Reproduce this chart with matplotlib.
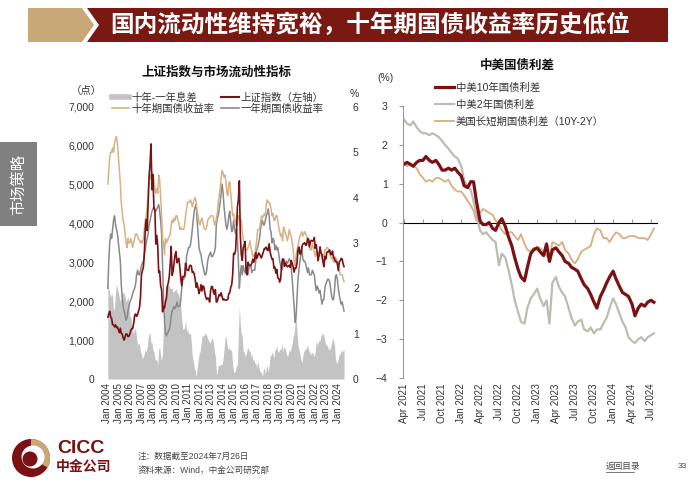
import matplotlib.pyplot as plt
import matplotlib.patches as mpatches
import matplotlib.dates as mdates
from matplotlib.lines import Line2D
from matplotlib.ticker import NullFormatter
import pandas as pd

plt.rcParams['font.family'] = ['Liberation Sans', 'Noto Sans CJK SC']

# ---- left chart: monthly data, Jan 2004 - Jul 2024 ----
sh_index = [
    1590, 1675, 1742, 1595, 1555, 1400, 1386, 1342, 1396, 1320, 1340, 1266,  # 2004
    1191, 1306, 1181, 1159, 1060, 1000, 1083, 1162, 1155, 1092, 1099, 1161,  # 2005
    1258, 1299, 1298, 1440, 1641, 1672, 1612, 1658, 1752, 1837, 2099, 2675,  # 2006
    2786, 2881, 3183, 3841, 4109, 3820, 4471, 5218, 5552, 6050, 4871, 5261,  # 2007
    4383, 4348, 3472, 3693, 3433, 2736, 2775, 2397, 2293, 1728, 1871, 1820,  # 2008
    1990, 2082, 2373, 2477, 2632, 2959, 3412, 2667, 2779, 2995, 3195, 3277,  # 2009
    2989, 3051, 3109, 2870, 2592, 2398, 2638, 2638, 2655, 2979, 2820, 2808,  # 2010
    2790, 2905, 2928, 2911, 2743, 2762, 2701, 2568, 2359, 2469, 2333, 2199,  # 2011
    2292, 2428, 2263, 2397, 2373, 2225, 2103, 2047, 2086, 2069, 1980, 2269,  # 2012
    2385, 2365, 2237, 2178, 2301, 1979, 1993, 2098, 2175, 2142, 2220, 2116,  # 2013
    2033, 2056, 2033, 2026, 2039, 2048, 2202, 2217, 2364, 2420, 2683, 3235,  # 2014
    3210, 3310, 3748, 4442, 4612, 5100, 3700, 3206, 3053, 3383, 3445, 3539,  # 2015
    2738, 2688, 3004, 2938, 2917, 2930, 2979, 3085, 3005, 3100, 3250, 3104,  # 2016
    3159, 3242, 3223, 3155, 3117, 3192, 3273, 3361, 3349, 3393, 3317, 3307,  # 2017
    3480, 3259, 3169, 3082, 3095, 2847, 2876, 2725, 2821, 2603, 2588, 2494,  # 2018
    2585, 2941, 3091, 3078, 2899, 2979, 2933, 2886, 2905, 2929, 2872, 3050,  # 2019
    2977, 2880, 2750, 2860, 2852, 2985, 3310, 3396, 3218, 3225, 3392, 3473,  # 2020
    3483, 3509, 3441, 3447, 3615, 3591, 3397, 3544, 3568, 3547, 3564, 3640,  # 2021
    3361, 3462, 3252, 3047, 3186, 3399, 3253, 3202, 3024, 2893, 3151, 3089,  # 2022
    3255, 3280, 3273, 3323, 3205, 3202, 3291, 3120, 3110, 3018, 3030, 2975,  # 2023
    2789, 3015, 3041, 3104, 3087, 2967, 2890,                                # 2024
]
yield_10y = [
    4.3, 4.6, 4.9, 5.0, 5.0, 5.1, 5.0, 5.2, 5.3, 5.35, 5.2, 4.9,
    4.6, 4.3, 3.9, 3.7, 3.5, 3.4, 3.2, 3.0, 2.9, 3.1, 3.0, 3.0,
    3.1, 3.0, 2.9, 3.0, 3.1, 3.2, 3.2, 3.15, 3.1, 3.05, 3.0, 3.05,
    3.0, 3.1, 3.3, 3.5, 3.6, 3.8, 4.1, 4.4, 4.5, 4.4, 4.55, 4.4,
    4.4, 4.2, 4.1, 4.2, 4.1, 4.5, 4.4, 4.0, 3.6, 3.1, 3.0, 2.75,
    3.1, 3.0, 3.05, 3.1, 3.15, 3.2, 3.4, 3.5, 3.45, 3.55, 3.5, 3.6,
    3.6, 3.5, 3.45, 3.3, 3.35, 3.3, 3.3, 3.3, 3.4, 3.6, 3.75, 3.9,
    3.9, 3.9, 3.95, 3.9, 3.8, 3.9, 3.95, 4.0, 3.9, 3.7, 3.6, 3.45,
    3.4, 3.5, 3.55, 3.45, 3.35, 3.3, 3.3, 3.35, 3.5, 3.55, 3.55, 3.6,
    3.6, 3.6, 3.55, 3.4, 3.4, 3.55, 3.65, 3.9, 4.05, 4.2, 4.45, 4.6,
    4.55, 4.45, 4.5, 4.35, 4.1, 4.05, 4.3, 4.35, 4.1, 3.85, 3.6, 3.65,
    3.45, 3.4, 3.6, 3.4, 3.6, 3.6, 3.5, 3.5, 3.25, 3.1, 3.0, 2.85,
    2.85, 2.85, 2.9, 2.95, 3.05, 2.9, 2.8, 2.7, 2.75, 2.7, 2.9, 3.05,
    3.3, 3.3, 3.3, 3.45, 3.6, 3.55, 3.6, 3.65, 3.6, 3.85, 3.95, 3.9,
    3.9, 3.85, 3.75, 3.6, 3.65, 3.5, 3.5, 3.6, 3.6, 3.5, 3.35, 3.25,
    3.15, 3.2, 3.05, 3.35, 3.3, 3.2, 3.15, 3.05, 3.15, 3.3, 3.2, 3.15,
    3.0, 2.85, 2.6, 2.5, 2.7, 2.85, 2.95, 3.05, 3.15, 3.2, 3.25, 3.15,
    3.2, 3.25, 3.2, 3.15, 3.1, 3.1, 2.9, 2.85, 2.85, 3.0, 2.9, 2.8,
    2.7, 2.8, 2.8, 2.8, 2.75, 2.8, 2.75, 2.65, 2.75, 2.7, 2.85, 2.85,
    2.9, 2.9, 2.85, 2.8, 2.7, 2.65, 2.65, 2.58, 2.7, 2.68, 2.65, 2.55,
    2.45, 2.4, 2.3, 2.3, 2.3, 2.22, 2.15,
]
yield_1y = [
    2.0, 2.6, 3.0, 3.2, 3.1, 3.3, 3.5, 3.6, 3.4, 3.3, 3.2, 3.0,
    2.8, 2.6, 2.1, 1.8, 1.6, 1.5, 1.4, 1.3, 1.35, 1.5, 1.6, 1.7,
    1.75, 1.8, 1.9, 1.95, 2.0, 2.1, 2.3, 2.4, 2.3, 2.3, 2.4, 2.5,
    2.55, 2.6, 2.75, 2.85, 3.0, 3.1, 3.2, 3.4, 3.5, 3.6, 3.7, 3.75,
    3.8, 3.75, 3.7, 3.75, 3.8, 3.85, 3.7, 3.5, 3.2, 2.5, 1.8, 1.3,
    1.0, 0.95, 1.0, 1.05, 1.1, 1.2, 1.4, 1.5, 1.55, 1.6, 1.55, 1.6,
    1.7, 1.6, 1.6, 1.6, 1.75, 2.0, 2.2, 2.2, 2.25, 2.3, 2.7, 2.8,
    2.9, 2.9, 2.95, 3.1, 3.3, 3.5, 3.7, 3.8, 3.85, 3.5, 3.2, 2.9,
    2.8, 2.75, 2.6, 2.5, 2.4, 2.3, 2.3, 2.4, 2.6, 2.7, 2.75, 2.8,
    2.7, 2.7, 2.75, 2.8, 2.9, 3.4, 3.55, 3.6, 3.75, 3.9, 4.1, 4.3,
    4.1, 3.8, 3.6, 3.4, 3.3, 3.4, 3.6, 3.7, 3.45, 3.25, 3.3, 3.5,
    3.3, 3.2, 3.3, 3.1, 2.6, 2.0, 2.3, 2.5, 2.3, 2.5, 2.4, 2.35,
    2.35, 2.3, 2.3, 2.45, 2.5, 2.5, 2.35, 2.4, 2.4, 2.4, 2.6, 2.85,
    2.9, 3.0, 3.1, 3.3, 3.45, 3.5, 3.4, 3.4, 3.5, 3.6, 3.65, 3.75,
    3.6, 3.3, 3.25, 3.0, 3.1, 3.05, 2.85, 2.95, 2.85, 2.9, 2.75, 2.6,
    2.5, 2.4, 2.45, 2.65, 2.6, 2.55, 2.6, 2.55, 2.6, 2.65, 2.6, 2.45,
    2.2, 1.9, 1.6, 1.25, 1.35, 1.8, 2.2, 2.4, 2.6, 2.75, 2.9, 2.65,
    2.6, 2.6, 2.55, 2.45, 2.35, 2.45, 2.3, 2.3, 2.3, 2.4, 2.35, 2.3,
    2.1, 1.95, 2.05, 2.0, 1.9, 1.95, 1.8, 1.65, 1.75, 1.75, 2.0, 2.1,
    2.15, 2.2, 2.2, 2.15, 2.0, 1.85, 1.75, 1.75, 1.95, 2.25, 2.3, 2.2,
    2.0, 1.85, 1.75, 1.65, 1.7, 1.6, 1.5,
]
spread_10y_1y = [
    2.3, 2.0, 1.9, 1.8, 1.9, 1.8, 1.5, 1.6, 1.9, 2.1, 2.0, 1.9,
    1.8, 1.7, 1.8, 1.9, 1.9, 1.9, 1.8, 1.7, 1.75, 1.8, 1.6, 1.4,
    1.35, 1.2, 1.0, 1.05, 1.1, 1.1, 0.9, 0.75, 0.8, 0.75, 0.6, 0.55,
    0.45, 0.5, 0.55, 0.65, 0.6, 0.7, 0.9, 1.0, 1.0, 0.8, 0.8, 0.65,
    0.6, 0.45, 0.4, 0.45, 0.3, 0.65, 0.7, 0.5, 0.4, 0.6, 1.2, 1.45,
    2.1, 2.05, 2.05, 2.05, 2.05, 2.0, 2.0, 2.0, 1.9, 1.95, 1.95, 2.0,
    1.9, 1.9, 1.85, 1.7, 1.6, 1.3, 1.1, 1.1, 1.15, 1.3, 1.05, 1.1,
    1.0, 1.0, 1.0, 0.8, 0.5, 0.4, 0.25, 0.2, 0.05, 0.2, 0.4, 0.55,
    0.6, 0.75, 0.95, 0.95, 0.95, 1.0, 1.0, 0.95, 0.9, 0.85, 0.8, 0.8,
    0.9, 0.9, 0.8, 0.6, 0.5, 0.15, 0.1, 0.3, 0.3, 0.3, 0.35, 0.3,
    0.45, 0.65, 0.9, 0.95, 0.8, 0.65, 0.7, 0.65, 0.65, 0.6, 0.3, 0.15,
    0.15, 0.2, 0.3, 0.3, 1.0, 1.6, 1.2, 1.0, 0.95, 0.6, 0.6, 0.5,
    0.55, 0.65, 0.7, 0.6, 0.65, 0.5, 0.55, 0.4, 0.45, 0.35, 0.35, 0.25,
    0.4, 0.3, 0.2, 0.15, 0.15, 0.05, 0.2, 0.25, 0.1, 0.25, 0.3, 0.15,
    0.3, 0.55, 0.5, 0.6, 0.55, 0.45, 0.65, 0.65, 0.75, 0.6, 0.6, 0.65,
    0.65, 0.8, 0.6, 0.7, 0.7, 0.65, 0.55, 0.5, 0.55, 0.65, 0.6, 0.7,
    0.8, 0.95, 1.0, 1.25, 1.35, 1.05, 0.75, 0.65, 0.55, 0.45, 0.35, 0.5,
    0.6, 0.65, 0.65, 0.7, 0.75, 0.65, 0.6, 0.55, 0.55, 0.6, 0.55, 0.5,
    0.6, 0.85, 0.75, 0.8, 0.85, 0.85, 0.95, 1.0, 1.0, 0.95, 0.85, 0.75,
    0.75, 0.7, 0.65, 0.65, 0.7, 0.8, 0.9, 0.85, 0.75, 0.45, 0.35, 0.35,
    0.45, 0.55, 0.55, 0.65, 0.6, 0.62, 0.65,
]
dates_left = pd.date_range('2004-01-01', periods=len(sh_index), freq='MS') + pd.Timedelta(days=14)

# ---- right chart: semi-monthly data, Apr 2021 - Jul 2024 ----
cn_us_10y = [
    1.50, 1.55, 1.50, 1.45, 1.55, 1.60, 1.60, 1.70, 1.60, 1.55, 1.60, 1.50,
    1.35, 1.35, 1.40, 1.35, 1.40, 1.30,
    1.20, 0.95, 0.90, 1.05, 1.05, 0.55, 0.05, -0.05, -0.05, 0.00, -0.15, -0.20,
    0.00, 0.10, -0.10, -0.35, -0.60, -0.90, -1.20, -1.40, -1.50, -1.15, -0.80, -0.70,
    -0.65, -0.75, -0.85, -0.55, -1.00, -0.70, -0.65, -0.75, -0.85, -1.00, -1.05, -1.15,
    -1.20, -1.25, -1.45, -1.60, -1.70, -1.85, -2.05, -2.20, -1.90, -1.75, -1.55, -1.40,
    -1.25, -1.45, -1.65, -1.80, -1.85, -1.90, -2.10, -2.40, -2.20, -2.10, -2.15, -2.05,
    -2.00, -2.05,
]
cn_us_2y = [
    2.65, 2.55, 2.50, 2.60, 2.45, 2.35, 2.30, 2.30, 2.25, 2.30, 2.25, 2.20,
    2.10, 2.00, 1.90, 1.80, 1.70, 1.65,
    1.45, 1.10, 0.90, 0.85, 0.55, 0.20, -0.20, -0.30, -0.25, -0.35, -0.45, -0.50,
    -1.10, -0.80, -0.90, -1.20, -1.60, -2.00, -2.30, -2.55, -2.60, -2.20, -1.95, -1.85,
    -1.70, -1.95, -2.15, -2.00, -2.60, -1.55, -1.40, -1.65, -1.80, -1.90, -2.20, -2.45,
    -2.65, -2.55, -2.50, -2.75, -2.80, -2.70, -2.85, -2.75, -2.75, -2.60, -2.45, -2.20,
    -1.95, -2.10, -2.35, -2.55, -2.70, -2.95, -3.05, -3.10, -3.00, -2.95, -3.05, -2.95,
    -2.90, -2.85,
]
us_10y_2y = [
    1.55, 1.45, 1.50, 1.45, 1.40, 1.25, 1.15, 1.05, 1.10, 1.05, 1.15, 1.15,
    1.10, 1.05, 1.10, 0.95, 0.85, 0.80,
    0.80, 0.70, 0.55, 0.45, 0.30, 0.05, 0.25, 0.35, 0.30, 0.25, 0.20, 0.05,
    -0.05, -0.20, -0.30, -0.25, -0.25, -0.35, -0.45, -0.30, -0.55, -0.70, -0.75, -0.65,
    -0.70, -0.65, -0.75, -0.85, -0.95, -0.50, -0.55, -0.60, -0.50, -0.70, -0.80, -0.95,
    -1.05, -0.95, -0.75, -0.70, -0.65, -0.60, -0.30, -0.15, -0.20, -0.40, -0.40, -0.50,
    -0.35, -0.25, -0.30, -0.40, -0.40, -0.35, -0.35, -0.35, -0.40, -0.40, -0.40, -0.45,
    -0.30, -0.15,
]
dates_right = pd.date_range('2021-04-01', periods=len(cn_us_10y), freq='SMS')

RED = '#7B1113'
TAN = '#D7B384'
GREY = '#8A8A8A'
AREA = '#C3C3C3'
TXT = '#333333'

fig = plt.figure(figsize=(7, 4.9), dpi=100)

# page decoration layer in pixel coordinates
bg = fig.add_axes([0, 0, 1, 1])
bg.set_xlim(0, 700)
bg.set_ylim(490, 0)
bg.axis('off')
bg.add_patch(mpatches.Polygon([(28, 8), (82, 8), (94, 25), (82, 42), (28, 42)], color='#C9A878', lw=0))
bg.add_patch(mpatches.Polygon([(87, 8), (668, 8), (668, 42), (87, 42), (99, 25)], color='#7A1812', lw=0))
bg.text(110, 25, '国内流动性维持宽裕，十年期国债收益率历史低位', color='white',
        fontsize=17, fontweight='bold', va='center', ha='left')
bg.add_patch(mpatches.Rectangle((0, 142), 37, 84, color='#808080', lw=0))
bg.text(18.5, 184, '市场策略', color='white', fontsize=11, rotation=90, ha='center', va='center')

# logo
bg.add_patch(mpatches.Circle((31, 458), 19, color=RED, lw=0))
bg.add_patch(mpatches.Wedge((31, 458), 19, -90, 30, color='#C9A878', lw=0))
bg.add_patch(mpatches.Circle((33, 457), 11.5, color='white', lw=0))
bg.add_patch(mpatches.Circle((30, 459), 7.5, color=RED, lw=0))
bg.text(57, 448, 'CICC', color=RED, fontsize=14, fontweight='bold', va='center', ha='left')
bg.text(56, 467, '中金公司', color=RED, fontsize=10, fontweight='bold', va='center', ha='left')
bg.text(138, 456, '注：数据截至2024年7月26日', color='#444444', fontsize=6.2, va='center')
bg.text(138, 470, '资料来源：Wind，中金公司研究部', color='#444444', fontsize=6.2, va='center')
bg.text(606, 466, '返回目录', color='#444444', fontsize=6.2, va='center')
bg.plot([606, 634], [472, 472], color='#444444', lw=0.5)
bg.text(682, 466, '33', color='#444444', fontsize=6, va='center', ha='center')

# chart titles and unit labels
bg.text(216, 73, '上证指数与市场流动性指标', fontsize=9, fontweight='bold', ha='center', va='center', color='#111111')
bg.text(517, 66, '中美国债利差', fontsize=9, fontweight='bold', ha='center', va='center', color='#111111')
bg.text(86, 91, '（点）', fontsize=7.5, ha='center', va='center', color=TXT)
bg.text(354, 94, '%', fontsize=7.5, ha='center', va='center', color=TXT)
bg.text(386, 78, '(%)', fontsize=7.5, ha='center', va='center', color=TXT)

# ---- left chart ----
ax1 = fig.add_axes([107 / 700, 1 - 379 / 490, 239 / 700, 272 / 490])
ax2 = ax1.twinx()
ax2.fill_between(dates_left, spread_10y_1y, 0, color=AREA, lw=0)
ax2.plot(dates_left, yield_1y, color=GREY, lw=1.1)
ax2.plot(dates_left, yield_10y, color=TAN, lw=1.1)
ax1.plot(dates_left, sh_index, color=RED, lw=1.2)
ax1.set_zorder(ax2.get_zorder() + 1)
ax1.patch.set_visible(False)

ax1.set_ylim(0, 7000)
ax2.set_ylim(0, 6)
ax1.set_yticks(range(0, 7001, 1000))
ax1.set_yticklabels([f'{v:,}' for v in range(0, 7001, 1000)])
ax2.set_yticks(range(0, 7))
ax1.set_xlim(pd.Timestamp('2003-12-20'), pd.Timestamp('2024-09-15'))
ax1.xaxis.set_major_locator(mdates.YearLocator())
ax1.xaxis.set_major_formatter(mdates.DateFormatter('%b %Y'))
for a in (ax1, ax2):
    for s in a.spines.values():
        s.set_visible(False)
ax1.tick_params(axis='y', length=0, pad=9, labelsize=7.5, labelcolor=TXT)
ax2.tick_params(axis='y', length=0, pad=5, labelsize=7.5, labelcolor=TXT)
ax1.tick_params(axis='x', length=0, pad=3, labelsize=7, labelcolor=TXT, labelrotation=90)

h_left = [
    Line2D([], [], color=AREA, lw=4),
    Line2D([], [], color=TAN, lw=1.2),
    Line2D([], [], color=RED, lw=1.5),
    Line2D([], [], color=GREY, lw=1.2),
]
l_left = ['十年-一年息差', '十年期国债收益率', '上证指数（左轴）', '一年期国债收益率']
ax1.legend(h_left, l_left, ncol=2, loc='upper left', bbox_to_anchor=(0.02, 1.052),
           frameon=False, fontsize=7.5, handlelength=1.7, handletextpad=0.2,
           columnspacing=0.6, labelspacing=0.05, borderpad=0, borderaxespad=0,
           labelcolor=TXT)

# ---- right chart ----
ax3 = fig.add_axes([403 / 700, 1 - 378 / 490, 254 / 700, 272 / 490])
ax3.plot(dates_right, cn_us_2y, color='#BDBCAE', lw=1.6)
ax3.plot(dates_right, us_10y_2y, color='#D9AE80', lw=1.3)
ax3.plot(dates_right, cn_us_10y, color=RED, lw=2.3)
ax3.set_ylim(-4, 3)
ax3.set_yticks(range(-4, 4))
ax3.set_xlim(pd.Timestamp('2021-03-27'), pd.Timestamp('2024-07-30'))
ax3.xaxis.set_major_locator(mdates.MonthLocator(bymonth=[1, 4, 7, 10]))
ax3.xaxis.set_major_formatter(mdates.DateFormatter('%b %Y'))
for k in ('top', 'right', 'bottom'):
    ax3.spines[k].set_visible(False)
ax3.spines['left'].set_color('#999999')
ax3.spines['left'].set_linewidth(0.8)
ax3.tick_params(axis='y', direction='out', length=3, color='#999999', pad=8,
                labelsize=7.5, labelcolor=TXT)
ax3.tick_params(axis='x', length=0, pad=4, labelsize=7, labelcolor=TXT, labelrotation=90)

# zero line with quarterly tick marks
zero = ax3.secondary_xaxis(4 / 7)
zero.xaxis.set_major_locator(mdates.MonthLocator(bymonth=[1, 4, 7, 10]))
zero.xaxis.set_major_formatter(NullFormatter())
zero.spines['bottom'].set_color('#999999')
zero.spines['bottom'].set_linewidth(0.8)
zero.tick_params(axis='x', direction='out', length=3, color='#999999',
                 labelbottom=False, labeltop=False)

h_right = [
    Line2D([], [], color=RED, lw=2.3),
    Line2D([], [], color='#BDBCAE', lw=1.6),
    Line2D([], [], color='#D9AE80', lw=1.3),
]
l_right = ['中美10年国债利差', '中美2年国债利差', '美国长短期国债利差（10Y-2Y）']
ax3.legend(h_right, l_right, loc='upper left', bbox_to_anchor=(0.125, 1.085),
           frameon=False, fontsize=7.5, handlelength=1.8, handletextpad=0.2,
           labelspacing=0.65, borderpad=0, borderaxespad=0, labelcolor=TXT)

fig.savefig('out.png', dpi=100)
